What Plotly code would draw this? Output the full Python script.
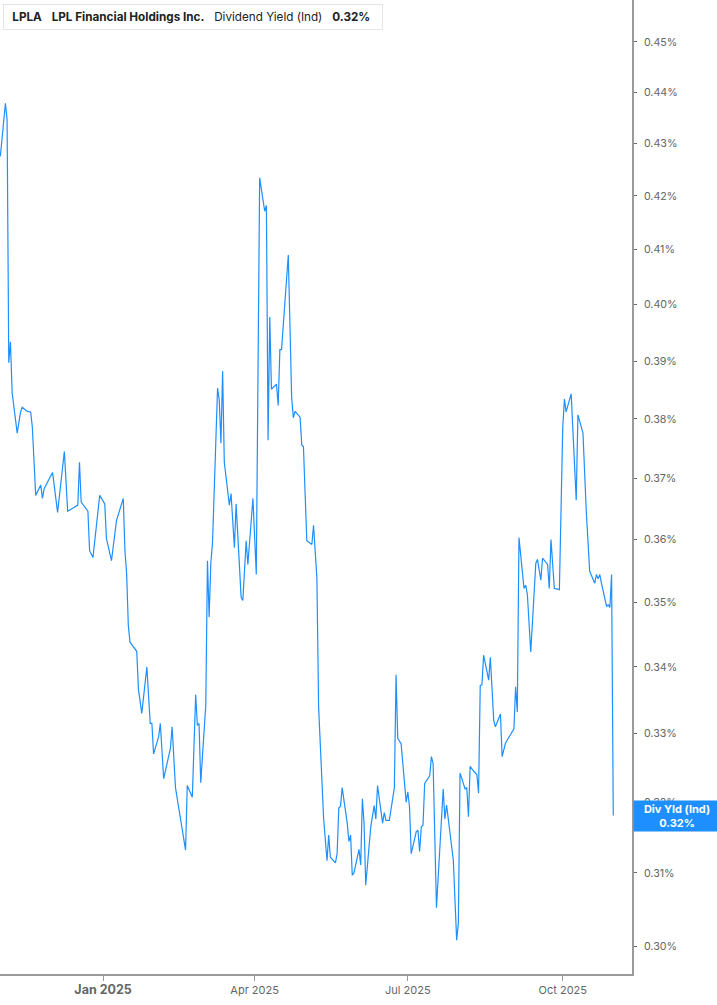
import math

import plotly.graph_objects as go

# Dividend yield (indicated), in percent
dates = [
    "2024-11-01", "2024-11-04", "2024-11-05", "2024-11-06", "2024-11-07", "2024-11-08",
    "2024-11-11", "2024-11-13", "2024-11-14", "2024-11-17", "2024-11-19", "2024-11-20",
    "2024-11-22", "2024-11-25", "2024-11-26", "2024-11-27", "2024-12-02", "2024-12-05",
    "2024-12-09", "2024-12-11", "2024-12-14", "2024-12-17", "2024-12-18", "2024-12-19",
    "2024-12-23", "2024-12-24", "2024-12-26", "2024-12-30", "2025-01-02", "2025-01-03",
    "2025-01-06", "2025-01-09", "2025-01-13", "2025-01-14", "2025-01-15", "2025-01-16",
    "2025-01-17", "2025-01-21", "2025-01-22", "2025-01-24", "2025-01-27", "2025-01-29",
    "2025-01-30", "2025-01-31", "2025-02-03", "2025-02-04", "2025-02-06", "2025-02-10",
    "2025-02-11", "2025-02-13", "2025-02-19", "2025-02-20", "2025-02-23", "2025-02-25",
    "2025-02-26", "2025-02-27", "2025-02-28", "2025-03-03", "2025-03-04", "2025-03-05",
    "2025-03-06", "2025-03-07", "2025-03-10", "2025-03-11", "2025-03-12", "2025-03-13",
    "2025-03-14", "2025-03-17", "2025-03-18", "2025-03-20", "2025-03-21", "2025-03-24",
    "2025-03-25", "2025-03-27", "2025-03-28", "2025-03-31", "2025-04-02", "2025-04-04",
    "2025-04-07", "2025-04-08", "2025-04-09", "2025-04-10", "2025-04-11", "2025-04-14",
    "2025-04-15", "2025-04-16", "2025-04-17", "2025-04-21", "2025-04-23", "2025-04-24",
    "2025-04-25", "2025-04-28", "2025-04-29", "2025-04-30", "2025-05-02", "2025-05-05",
    "2025-05-06", "2025-05-08", "2025-05-09", "2025-05-12", "2025-05-14", "2025-05-15",
    "2025-05-16", "2025-05-19", "2025-05-20", "2025-05-21", "2025-05-22", "2025-05-23",
    "2025-05-26", "2025-05-27", "2025-05-28", "2025-05-29", "2025-05-30", "2025-06-02",
    "2025-06-03", "2025-06-04", "2025-06-05", "2025-06-06", "2025-06-09", "2025-06-11",
    "2025-06-12", "2025-06-13", "2025-06-16", "2025-06-17", "2025-06-18", "2025-06-20",
    "2025-06-23", "2025-06-24", "2025-06-25", "2025-06-27", "2025-06-30", "2025-07-01",
    "2025-07-02", "2025-07-03", "2025-07-06", "2025-07-07", "2025-07-08", "2025-07-09",
    "2025-07-10", "2025-07-11", "2025-07-14", "2025-07-15", "2025-07-16", "2025-07-18",
    "2025-07-22", "2025-07-23", "2025-07-24", "2025-07-28", "2025-07-30", "2025-07-31",
    "2025-08-01", "2025-08-04", "2025-08-05", "2025-08-06", "2025-08-07", "2025-08-09",
    "2025-08-11", "2025-08-12", "2025-08-13", "2025-08-14", "2025-08-15", "2025-08-18",
    "2025-08-19", "2025-08-21", "2025-08-22", "2025-08-25", "2025-08-26", "2025-08-28",
    "2025-09-02", "2025-09-03", "2025-09-04", "2025-09-05", "2025-09-08", "2025-09-09",
    "2025-09-10", "2025-09-12", "2025-09-15", "2025-09-16", "2025-09-18", "2025-09-19",
    "2025-09-22", "2025-09-23", "2025-09-24", "2025-09-26", "2025-09-29", "2025-10-01",
    "2025-10-02", "2025-10-03", "2025-10-06", "2025-10-09", "2025-10-10", "2025-10-13",
    "2025-10-15", "2025-10-17", "2025-10-20", "2025-10-21", "2025-10-22", "2025-10-23",
    "2025-10-24", "2025-10-27", "2025-10-28", "2025-10-29", "2025-10-30", "2025-10-31",
]
div_yield = [
    0.4275, 0.4378, 0.4346, 0.3897, 0.3934, 0.3845,
    0.3776, 0.3812, 0.3820, 0.3813, 0.3812, 0.3786,
    0.3672, 0.3689, 0.3667, 0.3683, 0.3710, 0.3644,
    0.3745, 0.3646, 0.3651, 0.3656, 0.3727, 0.3661,
    0.3646, 0.3582, 0.3571, 0.3672, 0.3658, 0.3602,
    0.3566, 0.3631, 0.3667, 0.3582, 0.3545, 0.3464,
    0.3438, 0.3424, 0.3366, 0.3330, 0.3400, 0.3315,
    0.3315, 0.3270, 0.3295, 0.3315, 0.3234, 0.3278,
    0.3310, 0.3221, 0.3132, 0.3224, 0.3207, 0.3358,
    0.3312, 0.3315, 0.3228, 0.3342, 0.3566, 0.3477,
    0.3562, 0.3595, 0.3853, 0.3832, 0.3759, 0.3882,
    0.3727, 0.3656, 0.3675, 0.3587, 0.3658, 0.3508,
    0.3503, 0.3598, 0.3560, 0.3667, 0.3544, 0.4234,
    0.4171, 0.4182, 0.3764, 0.3978, 0.3851, 0.3860,
    0.3823, 0.3920, 0.3920, 0.4090, 0.3837, 0.3802,
    0.3813, 0.3803, 0.3756, 0.3753, 0.3598, 0.3592,
    0.3623, 0.3538, 0.3340, 0.3176, 0.3117, 0.3153,
    0.3122, 0.3114, 0.3127, 0.3192, 0.3194, 0.3221,
    0.3170, 0.3144, 0.3153, 0.3097, 0.3100, 0.3133,
    0.3111, 0.3205, 0.3170, 0.3083, 0.3165, 0.3195,
    0.3176, 0.3224, 0.3170, 0.3185, 0.3174, 0.3174,
    0.3221, 0.3388, 0.3293, 0.3285, 0.3200, 0.3215,
    0.3193, 0.3127, 0.3158, 0.3160, 0.3130, 0.3165,
    0.3167, 0.3227, 0.3238, 0.3266, 0.3256, 0.3052,
    0.3219, 0.3176, 0.3196, 0.3118, 0.3008, 0.3031,
    0.3242, 0.3219, 0.3221, 0.3179, 0.3252, 0.3245,
    0.3240, 0.3213, 0.3372, 0.3373, 0.3418, 0.3380,
    0.3415, 0.3320, 0.3310, 0.3329, 0.3266, 0.3286,
    0.3307, 0.3370, 0.3332, 0.3603, 0.3522, 0.3527,
    0.3512, 0.3423, 0.3562, 0.3568, 0.3535, 0.3570,
    0.3560, 0.3522, 0.3600, 0.3522, 0.3520, 0.3786,
    0.3834, 0.3812, 0.3843, 0.3664, 0.3807, 0.3776,
    0.3644, 0.3549, 0.3530, 0.3544, 0.3537, 0.3544,
    0.3530, 0.3494, 0.3496, 0.3492, 0.3544, 0.3181,
]

y_ticks = [0.30, 0.31, 0.32, 0.33, 0.34, 0.35, 0.36, 0.37, 0.38, 0.39, 0.40, 0.41, 0.42, 0.43, 0.44, 0.45]
x_ticks = ["2025-01-01", "2025-04-01", "2025-07-01", "2025-10-01"]
x_tick_text = ["<b><span style='font-size:12.5px'>Jan 2025</span></b>", "Apr 2025", "Jul 2025", "Oct 2025"]

BLUE = "#1e8fff"
AXIS = "#9a9a9a"

fig = go.Figure()

fig.add_trace(
    go.Scatter(
        x=dates,
        y=div_yield,
        mode="lines",
        line=dict(color=BLUE, width=1.2),
        hoverinfo="x+y",
    )
)

fig.update_layout(
    width=717,
    height=1005,
    margin=dict(l=0, r=85, t=0, b=31),
    paper_bgcolor="white",
    plot_bgcolor="white",
    showlegend=False,
    font=dict(family="Inter"),
    xaxis=dict(
        range=["2024-10-31 19:00", "2025-11-11 03:00"],
        tickvals=x_ticks,
        ticktext=x_tick_text,
        tickfont=dict(family="Inter", size=11, color="#666666"),
        ticks="outside",
        ticklen=5,
        tickcolor=AXIS,
        showline=True,
        linecolor=AXIS,
        linewidth=1.5,
        showgrid=False,
        zeroline=False,
    ),
    yaxis=dict(
        type="log",
        side="right",
        range=[-0.52832, -0.33861],
        tickvals=y_ticks,
        ticktext=[f"{v:.2f}%" for v in y_ticks],
        tickfont=dict(family="Inter", size=10.7, color="#666666"),
        ticks="outside",
        ticklen=3,
        tickcolor="#666666",
        ticklabelstandoff=5,
        showline=True,
        linecolor=AXIS,
        linewidth=1.5,
        showgrid=False,
        zeroline=False,
    ),
)

nb = "\u00a0"
fig.add_annotation(
    xref="paper", yref="paper",
    x=0, y=1, xanchor="left", yanchor="top",
    xshift=3, yshift=-4,
    text=(
        f"{nb}<b>LPLA</b>{nb*3}<b>LPL Financial Holdings Inc.</b>{nb*3}"
        f"Dividend Yield (Ind){nb*3}<b>0.32%</b>{nb*2}"
    ),
    font=dict(family="Inter", size=11.7, color="#222222"),
    showarrow=False,
    bgcolor="white",
    bordercolor="#e4e4e4",
    borderwidth=1,
    borderpad=5,
)
fig.add_shape(
    type="rect", xref="paper", yref="paper",
    x0=3 / 632, x1=6 / 632, y0=1 - 30 / 974, y1=1 - 5 / 974,
    fillcolor=BLUE, line=dict(width=0),
)

fig.add_annotation(
    xref="paper", yref="y",
    x=1, y=math.log10(div_yield[-1]),
    xanchor="left", yanchor="middle",
    xshift=1, yshift=-1,
    text="<b>Div Yld (Ind)</b><br><b>0.32%</b>",
    font=dict(family="Inter", size=11, color="white"),
    showarrow=False,
    bgcolor=BLUE,
    width=84,
    height=28,
    align="center",
)

fig.write_html(
    "out.html",
    config={"displayModeBar": False},
    post_script="document.body.style.margin='0';",
)
